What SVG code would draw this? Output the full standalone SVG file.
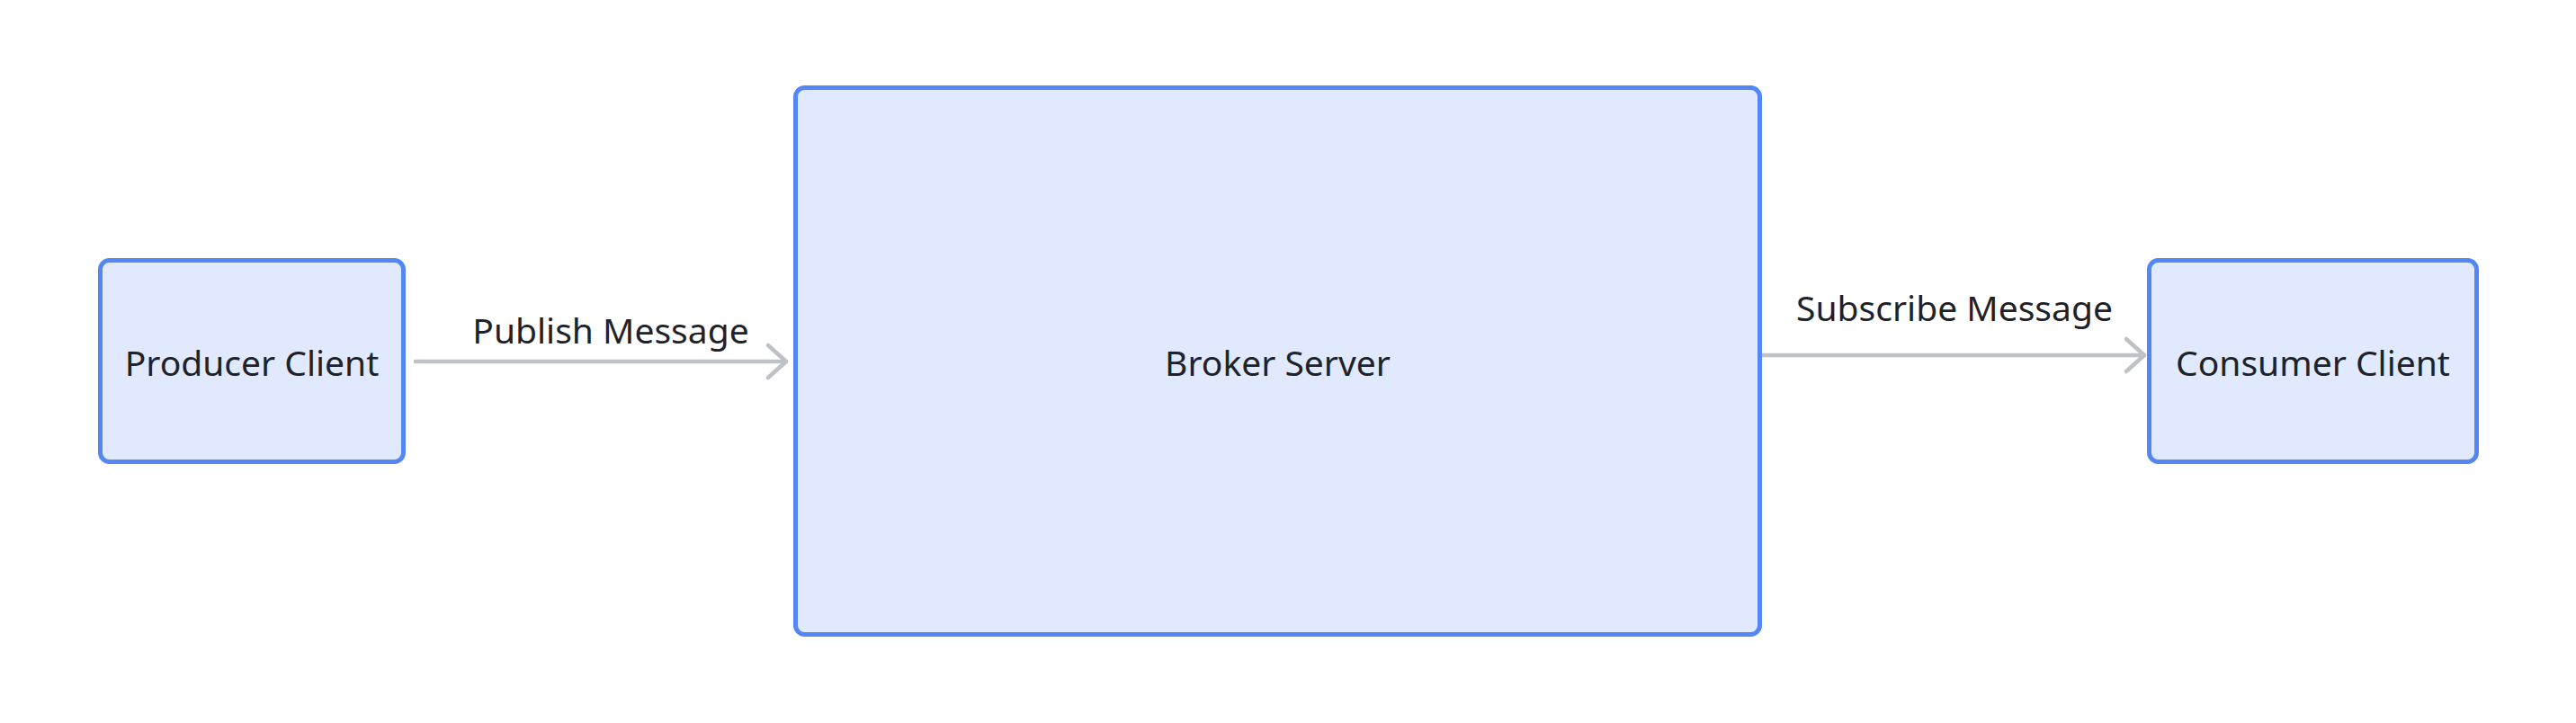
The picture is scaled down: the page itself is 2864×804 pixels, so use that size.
<svg xmlns="http://www.w3.org/2000/svg" width="2864" height="804" viewBox="0 0 2864 804">
<style>
.node{fill:#e0e9fe;stroke:#5387f6;stroke-width:5}
.lbl{font-family:"Noto Sans","Liberation Sans",sans-serif;font-size:39px;fill:#1f2329;text-anchor:middle}
.edge{fill:none;stroke:#bec1c5;stroke-width:4.5;stroke-linecap:round;stroke-linejoin:round}
</style>
<defs>
<marker id="arr" markerUnits="userSpaceOnUse" markerWidth="30" markerHeight="44" viewBox="-26 -22 30 44" refX="0" refY="0" orient="auto">
<path d="M-20,-18 L0,0 L-20,18" fill="none" stroke="#bec1c5" stroke-width="4.5" stroke-linecap="round" stroke-linejoin="round"/>
</marker>
</defs>
<rect width="2864" height="804" fill="#ffffff"/>
<g id="connectors">
<g id="edge-publish">
<path class="edge" d="M462,402 L874,402" marker-end="url(#arr)"/>
<text class="lbl" x="679" y="382">Publish Message</text>
</g>
<g id="edge-subscribe">
<path class="edge" d="M1960,395 L2384,395" marker-end="url(#arr)"/>
<text class="lbl" x="2173" y="357">Subscribe Message</text>
</g>
</g>
<g id="producer">
<rect class="node" x="111.5" y="289.5" width="337" height="224" rx="10"/>
<text class="lbl" x="280" y="418">Producer Client</text>
</g>
<g id="broker">
<rect class="node" x="884.5" y="97.5" width="1072" height="608" rx="10"/>
<text class="lbl" x="1420.5" y="418">Broker Server</text>
</g>
<g id="consumer">
<rect class="node" x="2389.5" y="289.5" width="364" height="224" rx="10"/>
<text class="lbl" x="2571.5" y="418">Consumer Client</text>
</g>
</svg>
